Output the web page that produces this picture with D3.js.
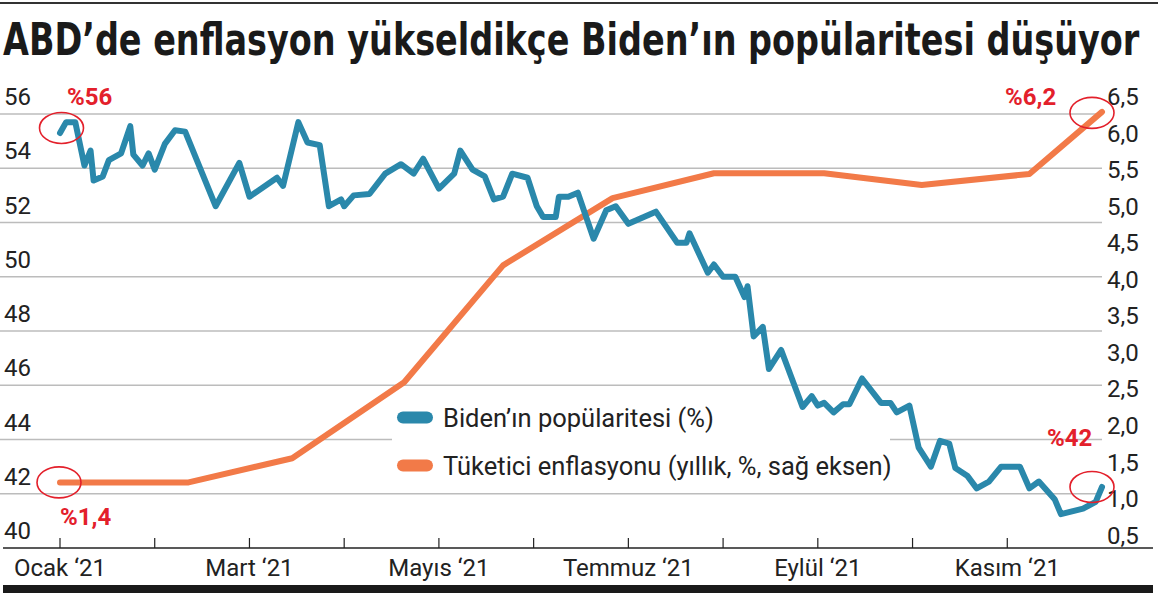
<!DOCTYPE html>
<html>
<head>
<meta charset="utf-8">
<script src="https://cdn.jsdelivr.net/npm/d3@7"></script>
<style>
  html, body { margin: 0; padding: 0; background: #fff; }
  svg { display: block; }
  text { font-family: Roboto, "Noto Sans", "DejaVu Sans", sans-serif; fill: #222; }
</style>
</head>
<body>
<svg id="chart" width="1158" height="598"></svg>
<script>
// ---------------- DATA ----------------
const titleText = "ABD’de enflasyon yükseldikçe Biden’ın popülaritesi düşüyor";

const approvalDates = [
  "2021-01-01","2021-01-03","2021-01-06","2021-01-09","2021-01-11","2021-01-12","2021-01-15","2021-01-17",
  "2021-01-21","2021-01-24","2021-01-25","2021-01-28","2021-01-30","2021-02-01","2021-02-04","2021-02-07",
  "2021-02-10","2021-02-19","2021-02-26","2021-03-01","2021-03-10","2021-03-12","2021-03-17","2021-03-20",
  "2021-03-24","2021-03-27","2021-03-31","2021-04-01","2021-04-04","2021-04-09","2021-04-14","2021-04-19",
  "2021-04-23","2021-04-26","2021-05-01","2021-05-06","2021-05-08","2021-05-12","2021-05-16","2021-05-19",
  "2021-05-22","2021-05-25","2021-05-30","2021-06-02","2021-06-04","2021-06-08","2021-06-09","2021-06-12",
  "2021-06-15","2021-06-20","2021-06-24","2021-06-27","2021-07-01","2021-07-10","2021-07-17","2021-07-20",
  "2021-07-21","2021-07-27","2021-07-29","2021-08-01","2021-08-05","2021-08-08","2021-08-09","2021-08-11",
  "2021-08-14","2021-08-16","2021-08-20","2021-08-27","2021-08-30","2021-09-01","2021-09-03","2021-09-06",
  "2021-09-09","2021-09-11","2021-09-15","2021-09-21","2021-09-24","2021-09-26","2021-09-30","2021-10-03",
  "2021-10-07","2021-10-10","2021-10-13","2021-10-15","2021-10-19","2021-10-22","2021-10-26","2021-10-30",
  "2021-11-05","2021-11-08","2021-11-11","2021-11-16","2021-11-18","2021-11-25","2021-11-29","2021-12-01"
];
const approvalValues = [
  55.3, 55.7, 55.7, 54.1, 54.65, 53.55, 53.7, 54.3,
  54.55, 55.55, 54.5, 54.1, 54.55, 53.95, 54.9, 55.4,
  55.35, 52.6, 54.2, 52.95, 53.65, 53.35, 55.7, 54.95,
  54.85, 52.6, 52.85, 52.6, 53.0, 53.05, 53.8, 54.15,
  53.8, 54.35, 53.25, 53.8, 54.65, 53.95, 53.7, 52.85,
  52.95, 53.8, 53.65, 52.6, 52.2, 52.2, 52.95, 52.95,
  53.1, 51.4, 52.45, 52.6, 51.95, 52.4, 51.25, 51.25,
  51.6, 50.15, 50.45, 50.0, 50.0, 49.25, 49.65, 47.8,
  48.15, 46.6, 47.3, 45.2, 45.6, 45.25, 45.35, 45.0,
  45.3, 45.3, 46.25, 45.35, 45.35, 45.0, 45.25, 43.7,
  43.0, 43.95, 43.85, 42.95, 42.65, 42.2, 42.45, 43.0,
  43.0, 42.2, 42.45, 41.8, 41.25, 41.45, 41.7, 42.25
];

const cpiDates  = ["2021-01-01","2021-02-11","2021-03-15","2021-04-20","2021-05-22","2021-06-26",
                   "2021-07-29","2021-09-03","2021-10-04","2021-11-08","2021-12-01"];
const cpiValues = [1.22, 1.22, 1.55, 2.59, 4.19, 5.11, 5.45, 5.45, 5.29, 5.44, 6.29];

const leftTicks  = [40, 42, 44, 46, 48, 50, 52, 54, 56];
const rightTicks = [0.5, 1.0, 1.5, 2.0, 2.5, 3.0, 3.5, 4.0, 4.5, 5.0, 5.5, 6.0, 6.5];
const monthLabels = ["Ocak ‘21", "", "Mart ‘21", "", "Mayıs ‘21", "", "Temmuz ‘21", "", "Eylül ‘21", "", "Kasım ‘21"];

const legendLabels = ["Biden’ın popülaritesi (%)", "Tüketici enflasyonu (yıllık, %, sağ eksen)"];
const annotations = ["%56", "%1,4", "%6,2", "%42"];

// ---------------- STYLE ----------------
const BLUE = "#2a88ab", ORANGE = "#f27a48", RED = "#e3202b", GRID = "#bcbcbc", DARK = "#222";

// ---------------- SCALES ----------------
const parse = d3.timeParse("%Y-%m-%d");
const monthStarts = d3.timeMonth.range(new Date(2021, 0, 1), new Date(2021, 11, 2)); // Jan..Dec
const x0 = 60, x1 = 1102;
const step = (x1 - x0) / (monthStarts.length - 1);
const x = d3.scaleTime().domain(monthStarts).range(monthStarts.map((d, i) => x0 + i * step));
const yL = d3.scaleLinear().domain([40, 56]).range([548, 114]);
const yR = d3.scaleLinear().domain([0.5, 6.5]).range([535, 96.5]);

const approval = approvalDates.map((d, i) => ({ date: parse(d), v: approvalValues[i] }));
const cpi = cpiDates.map((d, i) => ({ date: parse(d), v: cpiValues[i] }));

const svg = d3.select("#chart");

// top rule
svg.append("line").attr("x1", 0).attr("x2", 1158).attr("y1", 3).attr("y2", 3)
  .attr("stroke", "#333").attr("stroke-width", 2);

// title: measured and horizontally scaled to the reference width
const titleG = svg.append("g");
const title = titleG.append("text").attr("x", 0).attr("y", 0)
  .style("font-family", "'Liberation Sans Narrow', 'DejaVu Sans Condensed', Roboto, sans-serif")
  .style("font-weight", 700).style("font-size", "45px").style("fill", "#1a1a1a")
  .text(titleText);
const natural = title.node().getComputedTextLength();
const targetW = 1137;
titleG.attr("transform", `translate(3,55) scale(${targetW / natural},1)`);

// gridlines
svg.append("g").selectAll("line").data(leftTicks.filter(v => v > 40)).join("line")
  .attr("x1", 0).attr("x2", x(monthStarts[11]))
  .attr("y1", d => yL(d)).attr("y2", d => yL(d))
  .attr("stroke", GRID).attr("stroke-width", 1.5);

// left labels (sit above the gridline)
svg.append("g").selectAll("text").data(leftTicks).join("text")
  .attr("x", 4).attr("y", d => yL(d) - 9)
  .style("font-size", "24px")
  .text(d => d);

// right labels
const fmtR = v => d3.format(".1f")(v).replace(".", ",");
svg.append("g").selectAll("text").data(rightTicks).join("text")
  .attr("x", 1107).attr("y", d => yR(d)).attr("dy", "0.36em")
  .style("font-size", "24px")
  .text(fmtR);

// x axis
svg.append("line").attr("x1", 3).attr("x2", 1153).attr("y1", yL(40)).attr("y2", yL(40))
  .attr("stroke", DARK).attr("stroke-width", 1.5);
const tickDates = monthStarts.slice(0, 11);
svg.append("g").selectAll("line").data(tickDates).join("line")
  .attr("x1", d => x(d)).attr("x2", d => x(d))
  .attr("y1", yL(40)).attr("y2", yL(40) - 10)
  .attr("stroke", DARK).attr("stroke-width", 1.2);
svg.append("g").selectAll("text").data(tickDates).join("text")
  .attr("x", d => x(d)).attr("y", 576)
  .attr("text-anchor", "middle").style("font-size", "24px")
  .text((d, i) => monthLabels[i]);

// legend background
svg.append("rect").attr("x", 392).attr("y", 397).attr("width", 498).attr("height", 88).attr("fill", "#fff");

// lines
const lineL = d3.line().x(d => x(d.date)).y(d => yL(d.v));
const lineR = d3.line().x(d => x(d.date)).y(d => yR(d.v));
svg.append("path").datum(cpi).attr("d", lineR)
  .attr("fill", "none").attr("stroke", ORANGE).attr("stroke-width", 6)
  .attr("stroke-linejoin", "round").attr("stroke-linecap", "round");
svg.append("path").datum(approval).attr("d", lineL)
  .attr("fill", "none").attr("stroke", BLUE).attr("stroke-width", 6)
  .attr("stroke-linejoin", "round").attr("stroke-linecap", "round");

// legend
const legendColors = [BLUE, ORANGE];
const lg = svg.append("g");
legendLabels.forEach((t, i) => {
  const cy = 417.5 + i * 48;
  lg.append("line").attr("x1", 403).attr("x2", 427).attr("y1", cy).attr("y2", cy)
    .attr("stroke", legendColors[i]).attr("stroke-width", 12).attr("stroke-linecap", "round");
  lg.append("text").attr("x", 443).attr("y", cy).attr("dy", "0.36em")
    .style("font-size", "25.5px").text(t);
});

// annotations
const first = approval[0], lastA = approval[approval.length - 1];
const firstC = cpi[0], lastC = cpi[cpi.length - 1];
const ann = [
  { cx: x(first.date) + 1.5, cy: yL(first.v) - 5, tx: 67,   ty: 105, text: annotations[0] },
  { cx: x(firstC.date) - 1,  cy: yR(firstC.v),    tx: 60,   ty: 525, text: annotations[1] },
  { cx: x(lastC.date) - 10,  cy: yR(lastC.v) + 1, tx: 1005, ty: 105, text: annotations[2] },
  { cx: x(lastA.date) - 10,  cy: yL(lastA.v),     tx: 1047, ty: 446, text: annotations[3] }
];
const ag = svg.append("g");
ann.forEach(a => {
  ag.append("ellipse").attr("cx", a.cx).attr("cy", a.cy).attr("rx", 22).attr("ry", 15.5)
    .attr("fill", "none").attr("stroke", RED).attr("stroke-width", 1.6);
  ag.append("text").attr("x", a.tx).attr("y", a.ty)
    .style("font-size", "24px").style("font-weight", 700).style("fill", RED)
    .text(a.text);
});

// bottom bar
svg.append("rect").attr("x", 3).attr("y", 585).attr("width", 1150).attr("height", 8).attr("fill", "#1a1a1a");
</script>
</body>
</html>
